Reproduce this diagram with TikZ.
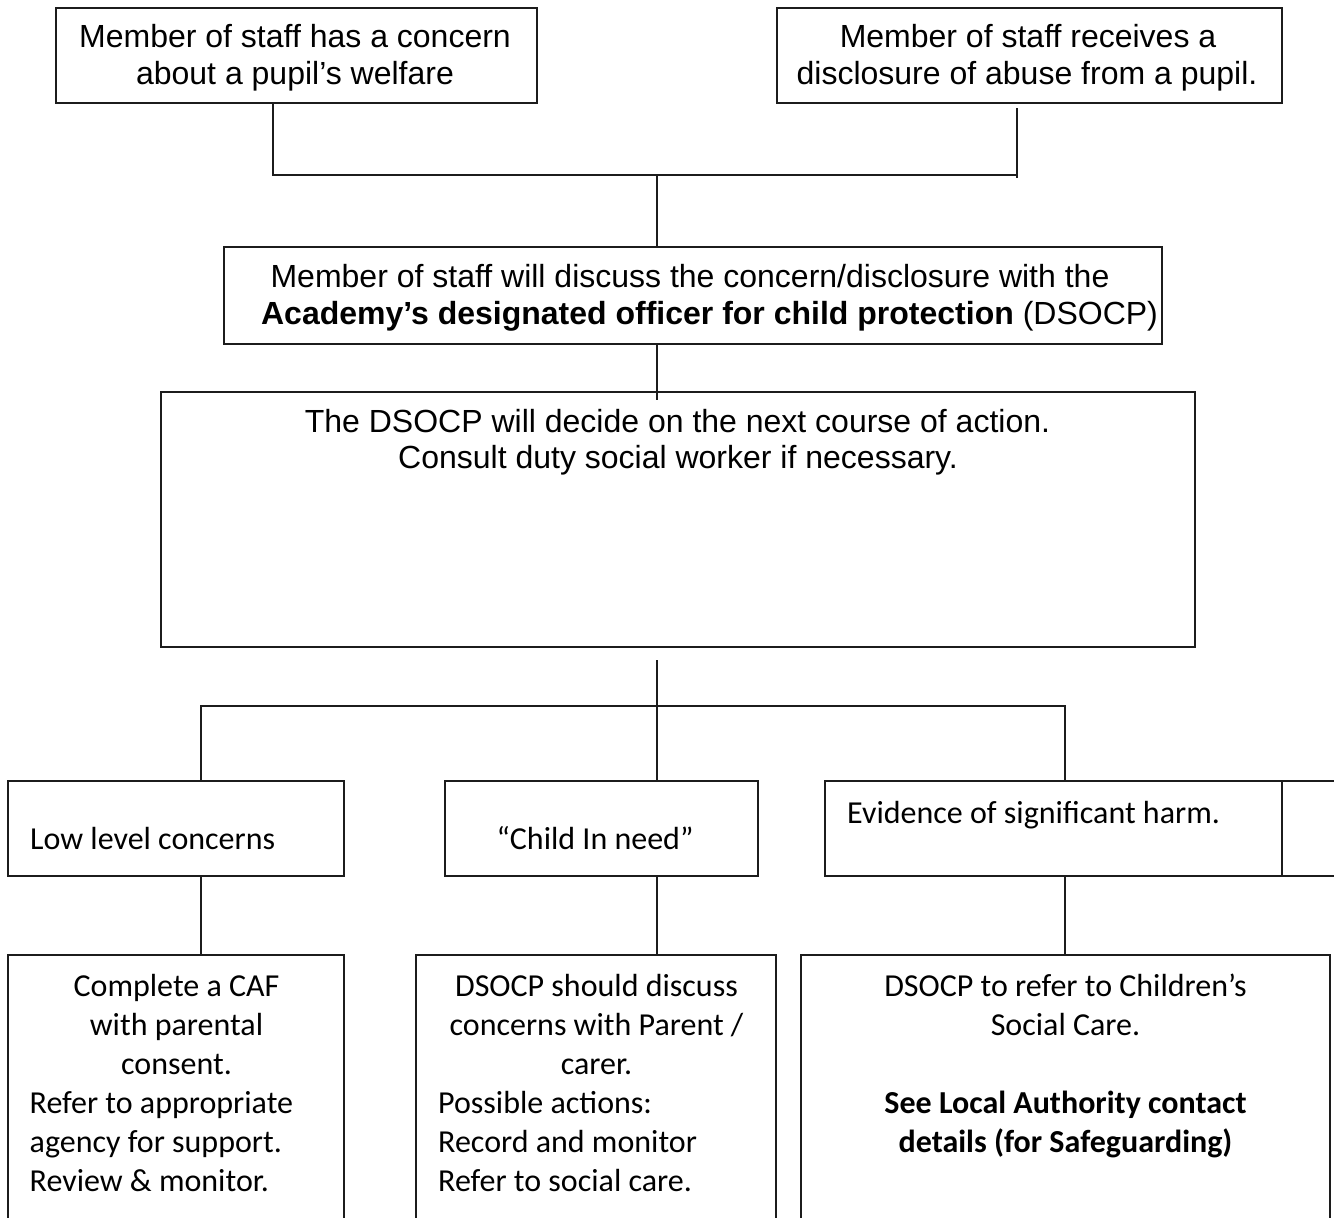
\documentclass[tikz,border=0pt]{standalone}
\usepackage{fontspec}
\setmainfont{Liberation Sans}
\newfontfamily\calibri{Carlito}
\definecolor{ink}{HTML}{1C1C1C}
\begin{document}
\begin{tikzpicture}[x=1pt,y=-1pt,
  box/.style={draw=ink, line width=1.8pt, rectangle, inner sep=0pt, outer sep=0pt},
  conn/.style={draw=ink, line width=1.5pt},
  atxt/.style={font=\fontsize{32}{37}\selectfont, inner sep=0pt, anchor=base, text=black},
  ctxt/.style={font=\calibri\fontsize{32}{39}\selectfont, inner sep=0pt, anchor=base, text=black},
  cltxt/.style={ctxt, anchor=base west}]
\useasboundingbox (0,0) rectangle (1334,1218);
\fill[white] (0,0) rectangle (1334,1218);
\clip (0,0) rectangle (1334,1218);

% boxes
\node[box, minimum width=481pt, minimum height=95pt] (A) at (296.5,55.5) {};
\node[box, minimum width=505pt, minimum height=95pt] (B) at (1029.5,55.5) {};
\node[box, minimum width=938pt, minimum height=97pt] (C) at (693,295.5) {};
\node[box, minimum width=1034pt, minimum height=255pt] (D) at (678,519.5) {};
\node[box, minimum width=336pt, minimum height=95pt] (E1) at (176,828.5) {};
\node[box, minimum width=313pt, minimum height=95pt] (E2) at (601.5,828.5) {};
\node[box, minimum width=457pt, minimum height=95pt] (E3) at (1053.5,828.5) {};
\node[box, minimum width=68pt, minimum height=95pt] (E4) at (1316,828.5) {};
\node[box, minimum width=336pt, minimum height=285pt] (F1) at (176,1097.5) {};
\node[box, minimum width=360pt, minimum height=285pt] (F2) at (596,1097.5) {};
\node[box, minimum width=529pt, minimum height=285pt] (F3) at (1065.5,1097.5) {};

% junction coordinates
\coordinate (j1L) at (273,175);
\coordinate (j1R) at (1017,175);
\coordinate (j1M) at (657,175);
\coordinate (bTop) at (1017,108);
\coordinate (bBot) at (1017,178);
\coordinate (cD) at (657,400);
\coordinate (dOut) at (657,660);
\coordinate (j2M) at (657,706);
\coordinate (j2L) at (201,706);
\coordinate (j2R) at (1065,706);

% connectors
\draw[conn] (A.south -| j1L) -- (j1L) -- (j1R);
\draw[conn] (bTop) -- (bBot);
\draw[conn] (j1M) -- (C.north -| j1M);
\draw[conn] (C.south -| cD) -- (cD);
\draw[conn] (dOut) -- (j2M);
\draw[conn] (E1.north -| j2L) -- (j2L) -- (j2R) -- (E3.north -| j2R);
\draw[conn] (j2M) -- (E2.north -| j2M);
\draw[conn] (E1.south -| j2L) -- (F1.north -| j2L);
\draw[conn] (E2.south -| j2M) -- (F2.north -| j2M);
\draw[conn] (E3.south -| j2R) -- (F3.north -| j2R);

% texts top
\node[atxt] (tA1) at (295,47.5) {Member of staff has a concern};
\node[atxt] (tA2) at (295,84.5) {about a pupil’s welfare};
\node[atxt] (tB1) at (1028,47.5) {Member of staff receives a};
\node[atxt] (tB2) at (1027,84.5) {disclosure of abuse from a pupil.};
\node[atxt] (tC1) at (690,287) {Member of staff will discuss the concern/disclosure with the};
\node[atxt] (tC2) at (709.5,324) {\textbf{Academy’s designated officer for child protection} (DSOCP)};
\node[atxt] (tD1) at (677.5,432) {The DSOCP will decide on the next course of action.};
\node[atxt] (tD2) at (678,468.5) {Consult duty social worker if necessary.};

% middle row
\node[cltxt] (tE1) at (30,849) {Low level concerns};
\node[ctxt] (tE2) at (595,849) {“Child In need”};
\node[cltxt] (tE3) at (847,823) {Evidence of significant harm.};

% bottom row
\node[ctxt] (tF11) at (176.5,996) {Complete a CAF};
\node[ctxt] (tF12) at (176.5,1035) {with parental};
\node[ctxt] (tF13) at (176.5,1074) {consent.};
\node[cltxt] (tF14) at (29.5,1113) {Refer to appropriate};
\node[cltxt] (tF15) at (29.5,1152) {agency for support.};
\node[cltxt] (tF16) at (29.5,1191) {Review \& monitor.};

\node[ctxt] (tF21) at (596.5,996) {DSOCP should discuss};
\node[ctxt] (tF22) at (596.5,1035) {concerns with Parent /};
\node[ctxt] (tF23) at (596.5,1074) {carer.};
\node[cltxt] (tF24) at (438,1113) {Possible actions:};
\node[cltxt] (tF25) at (438,1152) {Record and monitor};
\node[cltxt] (tF26) at (438,1191) {Refer to social care.};

\node[ctxt] (tF31) at (1065.5,996) {DSOCP to refer to Children’s};
\node[ctxt] (tF32) at (1065.5,1035) {Social Care.};
\node[ctxt, font=\calibri\bfseries\fontsize{32}{39}\selectfont] (tF33) at (1065.5,1113) {See Local Authority contact};
\node[ctxt, font=\calibri\bfseries\fontsize{32}{39}\selectfont] (tF34) at (1065.5,1152) {details (for Safeguarding)};
\end{tikzpicture}
\end{document}
